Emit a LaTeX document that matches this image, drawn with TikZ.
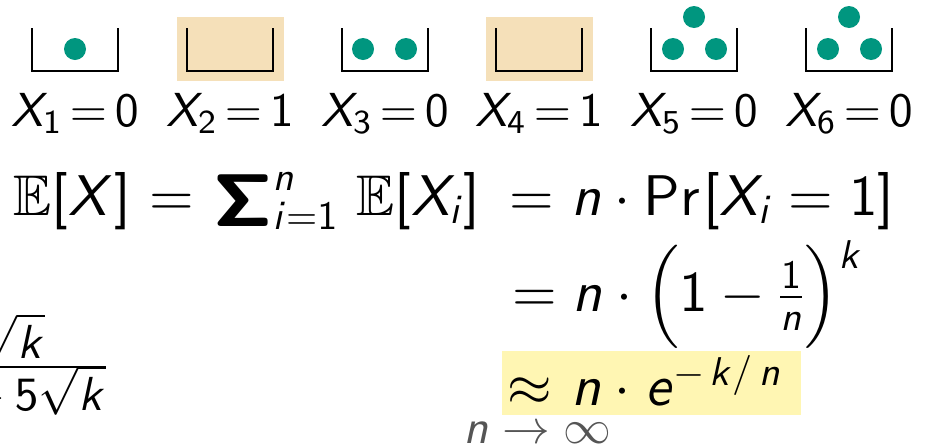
\documentclass[tikz,border=0pt]{standalone}
\usepackage{fix-cm}
\usepackage{amsmath}
\usepackage{amssymb}
\usepackage{graphicx}
\DeclareFontFamily{OT1}{mysf}{\hyphenchar\font=-1}
\DeclareFontShape{OT1}{mysf}{m}{n}{<-19> cmss8 <19-> cmss10}{}
\DeclareFontShape{OT1}{mysf}{m}{sl}{<-19> cmssi8 <19-> cmssi10}{}
\DeclareFontShape{OT1}{mysf}{bx}{n}{<-> cmssbx10}{}
\DeclareFontFamily{U}{msb}{}
\DeclareFontShape{U}{msb}{m}{n}{<-> msbm10}{}
\DeclareSymbolFont{operators}{OT1}{mysf}{m}{n}
\DeclareSymbolFont{letters}{OT1}{mysf}{m}{sl}
\mathcode`/="002F
\newcommand{\sfsum}{\mathop{\vcenter{\hbox{\scalebox{1.3}{\usefont{OT1}{mysf}{bx}{n}\char6}}}}\nolimits}
\definecolor{ballc}{HTML}{00967F}
\definecolor{wheatc}{HTML}{F5E0B9}
\definecolor{hly}{HTML}{FFF6B3}
\definecolor{grayt}{HTML}{555555}
\tikzset{
  urn/.style={line width=1.1pt, line join=miter, draw=black},
  ball/.style={fill=ballc, draw=none},
  hlbox/.style={fill=wheatc, draw=none},
  lbl/.style={anchor=base, inner sep=0pt, font=\fontsize{23.4}{28}\selectfont},
  eqn/.style={anchor=base west, inner sep=0pt, font=\fontsize{28.1}{34}\selectfont},
  supr/.style={anchor=base west, inner sep=0pt, font=\fontsize{19.67}{24}\selectfont},
  side/.style={anchor=base east, inner sep=0pt, font=\fontsize{23.4}{28}\selectfont},
}
\begin{document}
\begin{tikzpicture}[x=0.49pt,y=-0.49pt]
\useasboundingbox (0,0) rectangle (940,445);
\clip (0,0) rectangle (940,445);
% highlights
\fill[hlbox] (177,17) rectangle (284,81);
\fill[hlbox] (486,17) rectangle (593,81);
% urns
\foreach \x in {32,187,342,496,651,806}{
  \draw[urn] (\x,28) -- (\x,71) -- (\x+86,71) -- (\x+86,28);
}
% balls
\fill[ball] (75,49) circle[radius=11];
\fill[ball] (363,49) circle[radius=11];
\fill[ball] (406,49) circle[radius=11];
\fill[ball] (673,49) circle[radius=11];
\fill[ball] (716,49) circle[radius=11];
\fill[ball] (694,17) circle[radius=11];
\fill[ball] (828,49) circle[radius=11];
\fill[ball] (871,49) circle[radius=11];
\fill[ball] (849,17) circle[radius=11];
% labels
\foreach \i/\x/\v in {1/75/0,2/230/1,3/385/0,4/539/1,5/694/0,6/849/0}{
  \node[lbl] (lab\i) at (\x,126) {$X_{\i}\,{=}\,\v$};
}
% equation, line 1
\node[eqn] (l1a) at (13,215) {$\mathbb{E}[X]$};
\node[eqn] (l1b) at (149,215) {$=$};
\node[eqn] (l1c) at (213,215) {$\sfsum_{i=1}^{n}$};
\node[eqn] (l1d) at (356,215) {$\mathbb{E}[X_i]$};
\node[eqn] (l1e) at (509,215) {$=$};
\node[eqn] (l1f) at (571,215) {$n\cdot\Pr$};
\node[eqn] (l1g) at (703,215) {$[X_i = 1]$};
% line 2
\node[eqn] (l2) at (512,311) {$= n\cdot\Bigl(1-\tfrac{1}{n}\Bigr)^{\raisebox{-4pt}{$\scriptstyle k$}}$};
% line 3
\fill[hly] (502,351) rectangle (801,415);
\node[eqn] (l3a) at (507,405) {$\approx$};
\node[eqn] (l3b) at (571,405) {$n$};
\node[eqn] (l3c) at (614,405) {$\cdot$};
\node[eqn] (l3d) at (645,405) {$e$};
\node[supr] (l3e) at (673,385) {$-\mkern2mu k/\mkern3mu n$};
% limit
\node[eqn, font=\fontsize{23.4}{28}\selectfont, text=grayt] (lim) at (463,443) {$n\to\infty$};
% left fraction
\node[side] (num) at (45,358) {$\sqrt{k}$};
\node[side] (den) at (106,410) {${}+5\sqrt{k}$};
\coordinate (barL) at (-20,367);
\coordinate (barR) at (106,367);
\draw[line width=0.9pt] (barL) -- (barR);
\end{tikzpicture}
\end{document}
